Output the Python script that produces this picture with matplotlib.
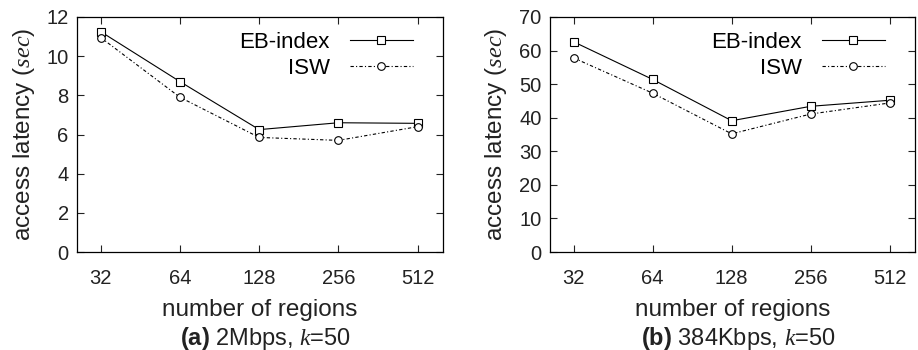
import matplotlib
matplotlib.use("Agg")
from matplotlib import pyplot as plt

# regions on the x axis (categorical)
regions = ["32", "64", "128", "256", "512"]

# (a) 2Mbps, k=50
eb_2m = [11.25, 8.7, 6.25, 6.6, 6.57]
isw_2m = [10.95, 7.9, 5.85, 5.7, 6.4]

# (b) 384Kbps, k=50
eb_384k = [62.6, 51.4, 39.1, 43.4, 45.2]
isw_384k = [57.8, 47.3, 35.2, 41.1, 44.4]

plt.rcParams["font.family"] = ["Liberation Sans", "DejaVu Sans"]
plt.rcParams["mathtext.fontset"] = "custom"
plt.rcParams["mathtext.rm"] = "Liberation Sans"
plt.rcParams["mathtext.it"] = "Liberation Serif:italic"
plt.rcParams["mathtext.bf"] = "Liberation Sans:bold"

fig = plt.figure(figsize=(9.18, 3.5), dpi=100)
W, H = 918.0, 350.0

panels = [
    (77, 443, eb_2m, isw_2m, (0, 12), [0, 2, 4, 6, 8, 10, 12],
     r"$\mathbf{(a)}$ 2Mbps, $\mathit{k}$=50", 37),
    (550, 915, eb_384k, isw_384k, (0, 70), [0, 10, 20, 30, 40, 50, 60, 70],
     r"$\mathbf{(b)}$ 384Kbps, $\mathit{k}$=50", 509),
]

x = list(range(len(regions)))

for left, right, eb, isw, ylim, yticks, caption, ylab_x in panels:
    ax = fig.add_axes([left / W, (H - 252) / H, (right - left) / W, (252 - 17) / H])
    ax.plot(x, eb, color="black", lw=0.8, marker="s", markersize=6,
            markerfacecolor="white", markeredgewidth=0.8, label="EB-index")
    ax.plot(x, isw, color="black", lw=0.8, linestyle=(0, (3, 2, 1, 2)),
            marker="o", markersize=5.5, markerfacecolor="white",
            markeredgewidth=0.8, label="ISW")
    ax.set_xlim(-0.3, 4.32)
    ax.set_ylim(*ylim)
    ax.set_xticks(x)
    ax.set_xticklabels(regions)
    ax.set_yticks(yticks)
    ax.tick_params(direction="in", length=5, width=0.8, labelsize=14.5,
                   top=True, right=True, colors="#222222")
    ax.tick_params(axis="x", pad=12)
    ax.tick_params(axis="y", pad=6)
    for s in ax.spines.values():
        s.set_linewidth(0.9)
    ax.set_ylabel(r"access latency ($\mathit{sec}$)", fontsize=17.5,
                  color="#222222")
    ax.yaxis.set_label_coords((ylab_x - left) / (right - left), 0.5)

    ax.legend(loc="upper right", bbox_to_anchor=(0.918, 0.935),
              frameon=False, markerfirst=False, fontsize=16,
              handlelength=2.85, handletextpad=0.9, labelspacing=0.2,
              borderaxespad=0, borderpad=0)

    cx = (left + right) / 2 / W
    fig.text(cx, 1 - 310 / H, "number of regions", ha="center", va="center",
             fontsize=17.5, color="#222222")
    fig.text(cx + 6 / W, 1 - 338 / H, caption, ha="center", va="center",
             fontsize=17, color="#222222")

fig.savefig("out.png", dpi=100)
